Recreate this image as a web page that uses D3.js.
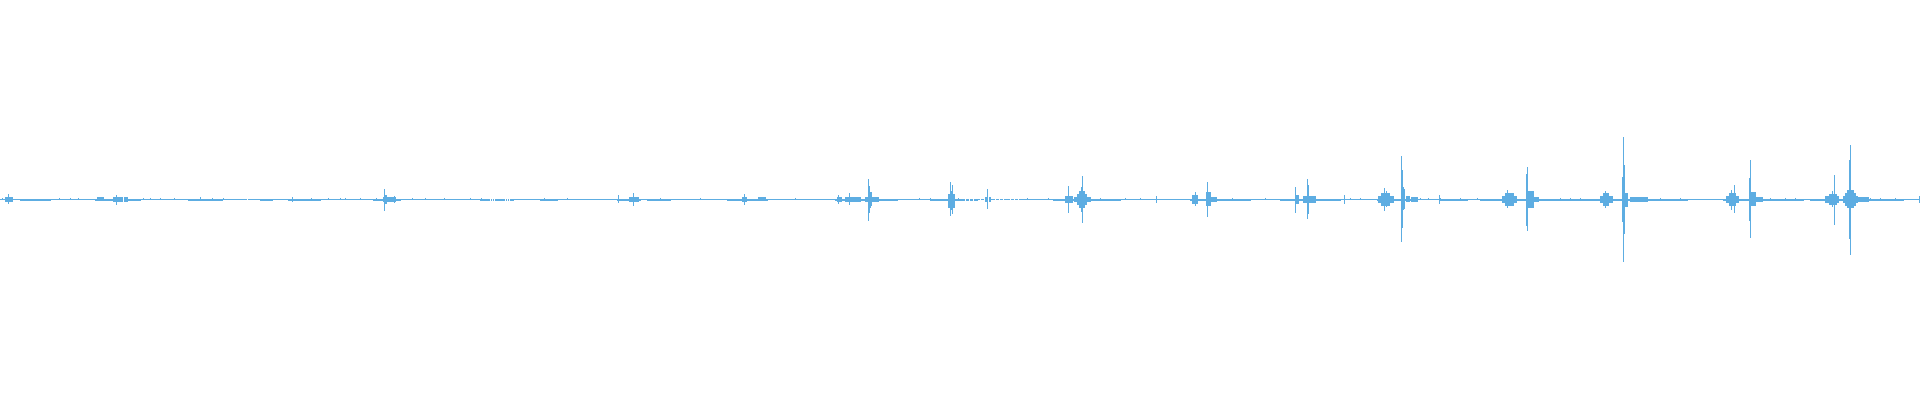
<!DOCTYPE html>
<html>
<head>
<meta charset="utf-8">
<script src="https://cdn.jsdelivr.net/npm/d3@7"></script>
<style>
  html, body { margin: 0; padding: 0; background: #ffffff; overflow: hidden; }
  svg { display: block; }
</style>
</head>
<body>
<svg id="chart" width="1920" height="400"></svg>
<script>
// Number of waveform columns (time bins)
const binCount = 1920;

// Isolated peaks: [bin, max amplitude, min amplitude]
const spikes = [
  [8,0.023,-0.021],
  [116,0.018,-0.023],
  [200,0.008,0],
  [292,0.008,-0.008],
  [384,0.048,-0.053],[385,0.018,-0.018],[386,0.018,-0.018],[394,0.013,-0.016],
  [618,0.018,-0.016],
  [633,0.028,-0.031],
  [744,0.023,-0.026],
  [838,0.018,-0.018],
  [849,0.028,-0.026],
  [868,0.098,-0.103],[869,0.063,-0.063],[870,0.033,-0.038],[871,0.033,-0.030],
  [950,0.083,-0.078],[951,0.040,-0.050],[952,0.068,-0.068],
  [987,0.048,-0.046],
  [1068,0.063,-0.063],
  [1081,0.060,-0.060],[1082,0.113,-0.116],
  [1156,0.013,-0.016],
  [1195,0.033,-0.031],
  [1207,0.083,-0.086],
  [1295,0.058,-0.063],
  [1307,0.098,-0.096],[1308,0.068,-0.071],
  [1344,0.018,-0.018],
  [1384,0.053,-0.053],[1386,0.038,-0.036],
  [1401,0.215,-0.212],[1402,0.144,-0.141],[1403,0.058,-0.048],[1404,0.050,-0.045],
  [1439,0.018,-0.018],
  [1507,0.043,-0.038],
  [1526,0.123,-0.128],[1527,0.160,-0.156],
  [1605,0.039,-0.041],
  [1622,0.108,-0.111],[1623,0.312,-0.312],[1624,0.168,-0.169],
  [1731,0.043,-0.048],[1734,0.068,-0.066],
  [1749,0.103,-0.106],[1750,0.194,-0.191],
  [1832,0.039,-0.036],[1834,0.118,-0.123],
  [1849,0.194,-0.193],[1850,0.273,-0.278],
  [1919,0.014,-0.016]
];

// Noise bursts around the events: [start bin, end bin, max, min]
const bursts = [
  [5,12,0.010,-0.010],
  [97,103,0.008,0],
  [113,127,0.008,-0.008],
  [383,395,0.008,-0.008],
  [629,638,0.010,-0.010],
  [742,746,0.010,-0.010],
  [758,765,0.008,-0.005],
  [837,841,0.008,-0.008],
  [845,860,0.008,-0.008],
  [865,867,0.010,-0.010],
  [872,878,0.010,-0.010],
  [948,954,0.023,-0.038],
  [985,990,0.010,-0.010],
  [1065,1072,0.015,-0.015],
  [1074,1090,0.010,-0.010],[1077,1086,0.025,-0.025],[1079,1084,0.040,-0.040],
  [1192,1197,0.018,-0.018],
  [1206,1210,0.033,-0.031],[1211,1216,0.010,-0.010],
  [1296,1298,0.018,-0.018],
  [1303,1315,0.013,-0.013],
  [1378,1393,0.015,-0.015],[1381,1389,0.028,-0.030],
  [1406,1409,0.014,-0.011],[1411,1417,0.008,-0.008],
  [1502,1516,0.013,-0.013],[1505,1513,0.030,-0.030],
  [1528,1533,0.039,-0.038],[1534,1538,0.010,-0.010],
  [1600,1612,0.013,-0.013],[1603,1608,0.030,-0.030],
  [1625,1627,0.028,-0.033],[1630,1647,0.008,-0.008],
  [1726,1738,0.013,-0.015],[1729,1735,0.030,-0.030],
  [1751,1755,0.033,-0.028],[1756,1762,0.010,-0.010],
  [1825,1838,0.013,-0.013],[1829,1836,0.025,-0.025],
  [1843,1857,0.013,-0.013],[1845,1855,0.030,-0.030],[1847,1853,0.043,-0.038],
  [1856,1868,0.008,-0.008]
];

// Low-level hum stretches where the trace is slightly thicker: [start bin, end bin]
const hum = [
  [20,50],[95,140],[188,222],[260,272],[288,320],[373,400],[480,513],[540,557],
  [617,640],[647,670],[727,767],[835,897],[930,977],[1053,1120],[1190,1250],
  [1280,1340],[1377,1415],[1440,1467],[1480,1620],[1620,1687],[1723,1803],[1810,1903]
];

// Tiny single-column blips on the quiet trace
const blips = [
  2,10,59,70,78,143,150,160,174,212,223,311,328,340,345,360,376,412,425,444,470,
  481,544,567,660,700,760,795,860,919,930,958,1027,1048,1100,1125,1140,1215,1232,
  1265,1350,1360,1420,1428,1440,1460,1477,1560,1570,1580,1640,1660,1680,1770,1785,
  1795,1870,1880,1895
];

// Build per-column min/max table from the arrays above
const bins = d3.range(binCount).map(i => ({ i, hi: 0, lo: 0 }));
function apply(i, hi, lo) {
  if (i < 0 || i >= binCount) return;
  bins[i].hi = Math.max(bins[i].hi, hi);
  bins[i].lo = Math.min(bins[i].lo, lo);
}
hum.forEach(([a, b]) => { for (let i = a; i <= b; i++) apply(i, 0, -0.005); });
blips.forEach(i => apply(i, 0.006, 0));
bursts.forEach(([a, b, hi, lo]) => { for (let i = a; i <= b; i++) apply(i, hi, lo); });
spikes.forEach(([i, hi, lo]) => apply(i, hi, lo));

const width = 1920, height = 400;
const x = d3.scaleLinear().domain([0, binCount]).range([0, width]);
const y = d3.scaleLinear().domain([-1, 1]).range([399, 0]);

const svg = d3.select("#chart");
svg.append("g")
  .attr("shape-rendering", "crispEdges")
  .selectAll("rect")
  .data(bins)
  .join("rect")
  .attr("x", d => Math.floor(x(d.i)))
  .attr("width", d => Math.max(1, Math.round(x(d.i + 1) - x(d.i))))
  .attr("y", d => Math.floor(y(d.hi)))
  .attr("height", d => Math.max(1, Math.ceil(y(d.lo)) - Math.floor(y(d.hi))))
  .attr("fill", "#5dade2");
</script>
</body>
</html>
